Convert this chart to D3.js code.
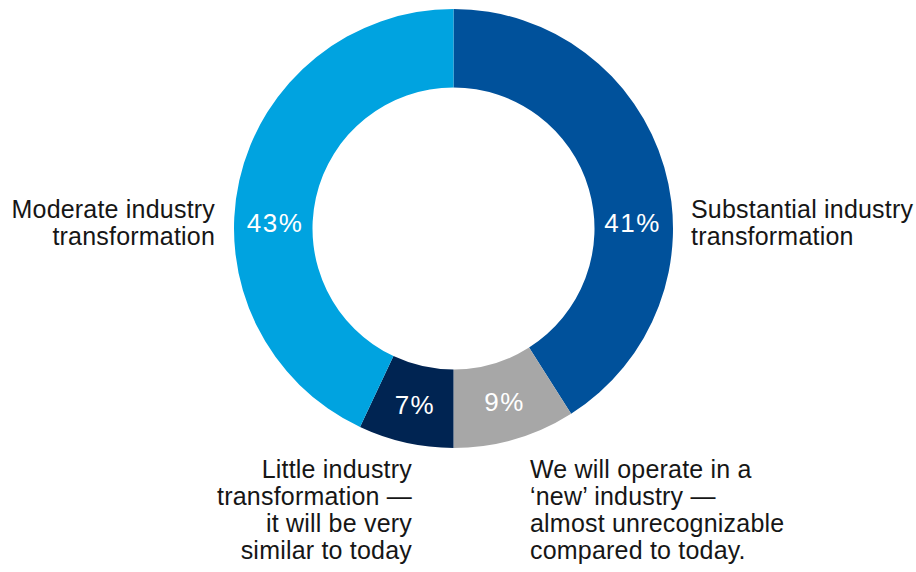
<!DOCTYPE html>
<html>
<head>
<meta charset="utf-8">
<script src="https://cdn.jsdelivr.net/npm/d3@7"></script>
<style>
  html, body { margin: 0; padding: 0; background: #ffffff; }
  svg { display: block; }
  text { font-family: "Liberation Sans", Arial, Helvetica, sans-serif; }
</style>
</head>
<body>
<svg id="chart" width="916" height="572"></svg>
<script>
// Survey answers, in drawing order clockwise from 12 o'clock
const categories = [
  "Substantial industry transformation",
  "We will operate in a ‘new’ industry — almost unrecognizable compared to today.",
  "Little industry transformation — it will be very similar to today",
  "Moderate industry transformation"
];
const shares = [41, 9, 7, 43];
const sliceColors = ["#00519b", "#a7a7a7", "#002452", "#00a3e0"];

// Wrapped category labels as they appear beside the ring
const labelLines = [
  ["Substantial industry", "transformation"],
  ["We will operate in a", "‘new’ industry —", "almost unrecognizable", "compared to today."],
  ["Little industry", "transformation —", "it will be very", "similar to today"],
  ["Moderate industry", "transformation"]
];

const width = 916, height = 572;
const cx = 453.5, cy = 228.5;
const outerR = 219.5, innerR = 141;

const svg = d3.select("#chart");
const g = svg.append("g").attr("transform", `translate(${cx},${cy})`);

const pie = d3.pie().sort(null).value(d => d.value);
const arc = d3.arc().innerRadius(innerR).outerRadius(outerR);

const data = categories.map((c, i) => ({ name: c, value: shares[i], color: sliceColors[i], lines: labelLines[i] }));
const arcs = pie(data);

g.selectAll("path.slice")
  .data(arcs)
  .join("path")
  .attr("class", "slice")
  .attr("d", arc)
  .attr("fill", d => d.data.color);

// Percentage labels: large slices sit on the horizontal mid-ring, small ones at their centroid
const midR = (innerR + outerR) / 2;
function valuePos(d) {
  const span = d.endAngle - d.startAngle;
  if (span > Math.PI / 2) {
    const mid = (d.startAngle + d.endAngle) / 2;
    return [Math.sin(mid) > 0 ? midR - 2 : -midR + 1, -6];
  }
  return arc.centroid(d);
}

g.selectAll("text.value")
  .data(arcs)
  .join("text")
  .attr("class", "value")
  .attr("x", d => valuePos(d)[0] + 0.75)
  .attr("y", d => valuePos(d)[1])
  .attr("dy", "0.35em")
  .attr("text-anchor", "middle")
  .attr("fill", "#ffffff")
  .attr("font-size", 26)
  .attr("letter-spacing", 1.5)
  .text(d => d.value + "%");

// Category labels placed around the ring
const lineH = 27;
const labelSpots = [
  { x: 691 - cx, y: 218 - cy, anchor: "start" },
  { x: 530 - cx, y: 478 - cy, anchor: "start" },
  { x: 412 - cx, y: 478 - cy, anchor: "end" },
  { x: 215 - cx, y: 218 - cy, anchor: "end" }
];

const labels = g.selectAll("text.cat")
  .data(arcs)
  .join("text")
  .attr("class", "cat")
  .attr("fill", "#161616")
  .attr("font-size", 25)
  .attr("letter-spacing", 0.2)
  .attr("text-anchor", (d, i) => labelSpots[i].anchor);

labels.selectAll("tspan")
  .data((d, i) => d.data.lines.map((t, k) => ({ t, k, i })))
  .join("tspan")
  .attr("x", d => labelSpots[d.i].x)
  .attr("y", d => labelSpots[d.i].y + d.k * lineH)
  .text(d => d.t);
</script>
</body>
</html>
